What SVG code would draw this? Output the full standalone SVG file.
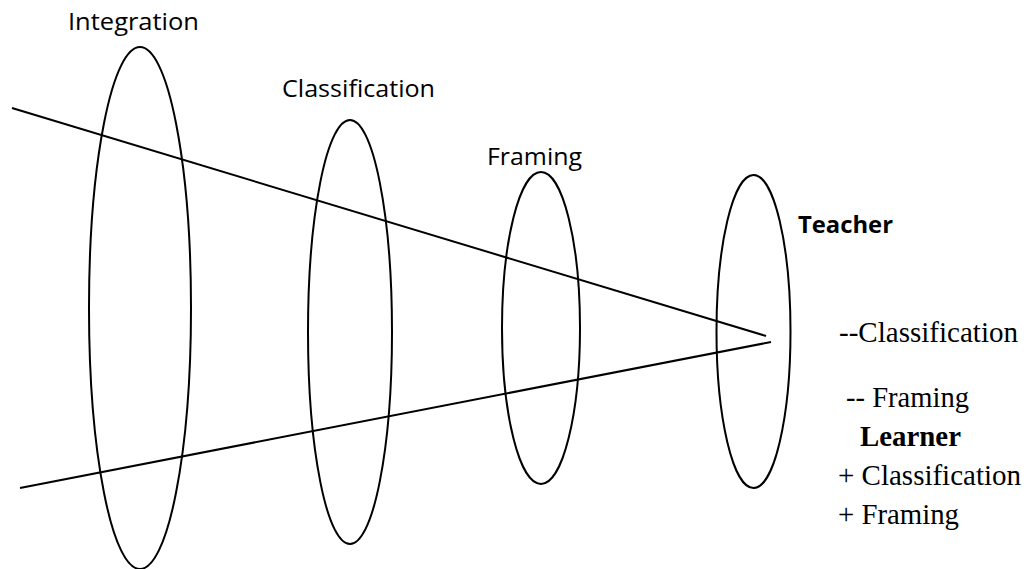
<svg xmlns="http://www.w3.org/2000/svg" width="1028" height="569" viewBox="0 0 1028 569">
<style>
.shape{fill:none;stroke:#000;stroke-width:2}
.sans{font-family:"Open Sans","Liberation Sans",sans-serif;font-size:24px;fill:#000}
.serif{font-family:"Liberation Serif","Times New Roman",serif;font-size:29px;fill:#000}
.b{font-weight:bold}
</style>
<rect width="1028" height="569" fill="#fff"/>
<g id="connectors">
<line class="shape" x1="12" y1="108" x2="766" y2="336"/>
<line class="shape" x1="20" y1="488" x2="771" y2="342"/>
</g>
<g id="integration">
<ellipse class="shape" cx="140" cy="308" rx="51" ry="261"/>
<text class="sans" x="68" y="29.5" textLength="131" lengthAdjust="spacingAndGlyphs">Integration</text>
</g>
<g id="classification">
<ellipse class="shape" cx="350" cy="332" rx="42" ry="212"/>
<text class="sans" x="282" y="97" textLength="153" lengthAdjust="spacingAndGlyphs">Classification</text>
</g>
<g id="framing">
<ellipse class="shape" cx="541" cy="328" rx="39" ry="156"/>
<text class="sans" x="487" y="165" textLength="95" lengthAdjust="spacingAndGlyphs">Framing</text>
</g>
<g id="teacher">
<ellipse class="shape" cx="753.5" cy="331.5" rx="37" ry="156.5"/>
<text class="sans b" x="798" y="233" textLength="95" lengthAdjust="spacingAndGlyphs">Teacher</text>
</g>
<g id="legend">
<text class="serif" x="839" y="342" textLength="179" lengthAdjust="spacingAndGlyphs">--Classification</text>
<text class="serif" x="846" y="407" textLength="123" lengthAdjust="spacingAndGlyphs">-- Framing</text>
<text class="serif b" x="860" y="446" textLength="101" lengthAdjust="spacingAndGlyphs">Learner</text>
<text class="serif" x="838" y="485" textLength="183" lengthAdjust="spacingAndGlyphs">+ Classification</text>
<text class="serif" x="838" y="524" textLength="121" lengthAdjust="spacingAndGlyphs">+ Framing</text>
</g>
</svg>
